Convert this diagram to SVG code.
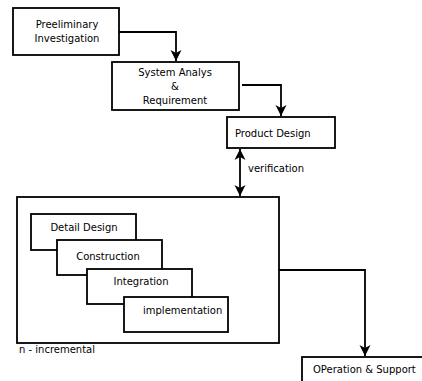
<svg xmlns="http://www.w3.org/2000/svg" width="422" height="381" viewBox="0 0 422 381">
<style>
.box{fill:#fff;stroke:#000;stroke-width:1.8}
.line{fill:none;stroke:#000;stroke-width:1.8}
text{font-family:"DejaVu Sans",Verdana,sans-serif;font-size:10px;fill:#000}
.c{text-anchor:middle}
</style>
<defs>
<marker id="ah" markerUnits="userSpaceOnUse" markerWidth="12" markerHeight="12" viewBox="0 0 12 12" refX="11" refY="6" orient="auto-start-reverse">
<path d="M0,0.5 L11,6 L0,11.5 L3,6 z" fill="#000"/>
</marker>
</defs>
<rect width="422" height="381" fill="#fff"/>
<g id="connectors">
<path class="line" d="M119,32 H176 V61" marker-end="url(#ah)"/>
<path class="line" d="M242,85 H281 V116" marker-end="url(#ah)"/>
<path class="line" d="M240,149 V196" marker-start="url(#ah)" marker-end="url(#ah)"/>
<path class="line" d="M279,270 H365 V356" marker-end="url(#ah)"/>
<text x="248" y="171.5">verification</text>
</g>
<g id="preliminary">
<rect class="box" x="13" y="8" width="106" height="47"/>
<text class="c" x="67" y="28">Preeliminary</text>
<text class="c" x="67" y="42">Investigation</text>
</g>
<g id="system-analysis">
<rect class="box" x="112" y="62" width="127" height="48"/>
<text class="c" x="175" y="76">System Analys</text>
<text class="c" x="175" y="90">&amp;</text>
<text class="c" x="175" y="103.5">Requirement</text>
</g>
<g id="product-design">
<rect class="box" x="227" y="117" width="108" height="31"/>
<text x="235" y="137">Product Design</text>
</g>
<g id="incremental">
<rect class="box" x="17" y="197" width="262" height="146"/>
<text x="19" y="353">n - incremental</text>
</g>
<g id="detail-design">
<rect class="box" x="31" y="214" width="105" height="36"/>
<text class="c" x="84" y="231">Detail Design</text>
</g>
<g id="construction">
<rect class="box" x="57" y="240" width="105" height="35"/>
<text class="c" x="108" y="259.5">Construction</text>
</g>
<g id="integration">
<rect class="box" x="87" y="269" width="105" height="35"/>
<text class="c" x="141" y="284.5">Integration</text>
</g>
<g id="implementation">
<rect class="box" x="124" y="297" width="104" height="35"/>
<text x="143" y="313.5">implementation</text>
</g>
<g id="operation">
<rect class="box" x="302" y="357" width="130" height="40"/>
<text x="313" y="372.5">OPeration &amp; Support</text>
</g>
</svg>
